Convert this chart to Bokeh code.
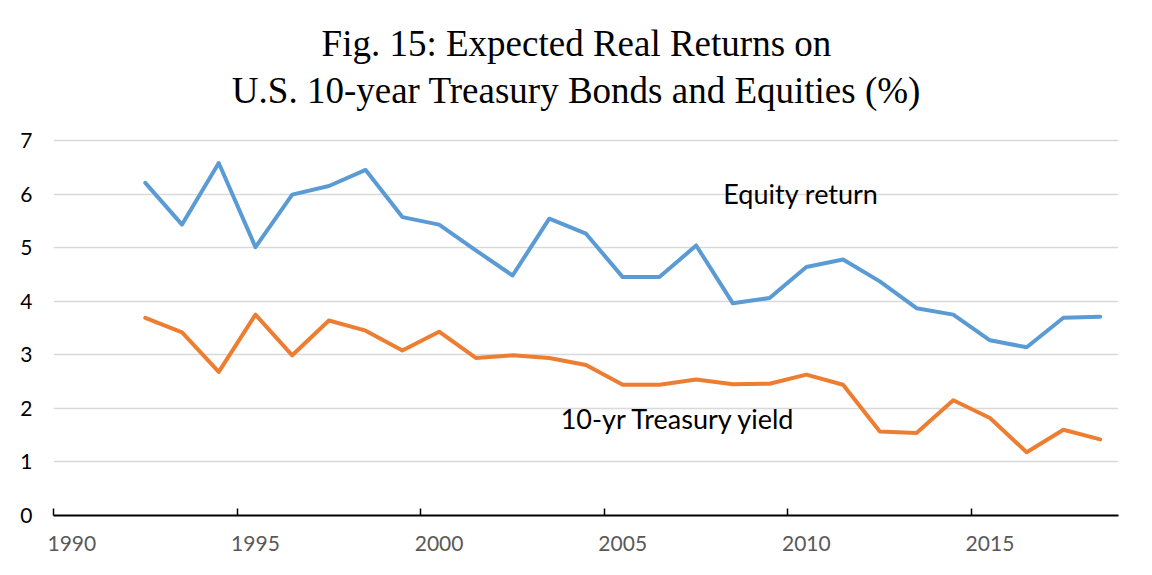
from bokeh.plotting import figure
from bokeh.models import Range1d, FixedTicker, LinearAxis, Label, CustomJSTickFormatter
from bokeh.embed import file_html
from bokeh.resources import INLINE

# ---- data ----
years = list(range(1992, 2019))
equity_return = [6.21, 5.43, 6.58, 5.01, 5.99, 6.15, 6.45, 5.57, 5.43, 4.95,
                 4.48, 5.54, 5.26, 4.45, 4.45, 5.04, 3.96, 4.06, 4.64, 4.78,
                 4.37, 3.87, 3.75, 3.27, 3.14, 3.69, 3.71]
treasury_yield = [3.69, 3.42, 2.68, 3.75, 2.99, 3.64, 3.45, 3.08, 3.43, 2.94,
                  2.99, 2.94, 2.81, 2.44, 2.44, 2.54, 2.45, 2.46, 2.63, 2.44,
                  1.57, 1.54, 2.15, 1.82, 1.18, 1.60, 1.42]
label_years = [1990, 1995, 2000, 2005, 2010, 2015]
y_ticks = [0, 1, 2, 3, 4, 5, 6, 7]
title_lines = ["Fig. 15: Expected Real Returns on",
               "U.S. 10-year Treasury Bonds and Equities (%)"]
series_names = ["Equity return", "10-yr Treasury yield"]

BLUE = "#5B9BD5"
ORANGE = "#ED7D31"
FONT = "Lato"
TITLE_FONT = "Liberation Serif"

# the plotting area extends up to the top of the canvas so the title can sit in it
Y_TOP = 9.613

p = figure(width=1144, height=567, output_backend="svg", toolbar_location=None,
           x_range=Range1d(label_years[0] - 0.5, years[-1] + 0.5),
           y_range=Range1d(y_ticks[0], Y_TOP),
           min_border_left=53, min_border_right=26,
           min_border_top=0, min_border_bottom=52)
p.outline_line_color = None
p.background_fill_color = "white"
p.border_fill_color = "white"

# grid
p.xgrid.grid_line_color = None
p.ygrid.ticker = FixedTicker(ticks=y_ticks[1:])
p.ygrid.grid_line_color = "#D9D9D9"
p.ygrid.grid_line_width = 1.4

# y axis
ya = p.yaxis[0]
ya.ticker = FixedTicker(ticks=y_ticks)
ya.axis_line_color = None
ya.major_tick_line_color = None
ya.minor_tick_line_color = None
ya.major_label_standoff = 15
ya.major_label_text_font = FONT
ya.major_label_text_font_size = "21px"
ya.major_label_text_color = "#000000"

# x axis: tick marks between categories
xa = p.xaxis[0]
xa.ticker = FixedTicker(ticks=[y - 0.5 for y in label_years])
xa.formatter = CustomJSTickFormatter(code="return ''")
xa.axis_line_color = "#000000"
xa.axis_line_width = 2
xa.major_tick_line_color = "#000000"
xa.major_tick_line_width = 1.5
xa.major_tick_in = 7
xa.major_tick_out = 0
xa.minor_tick_line_color = None
xa.major_label_standoff = 0
xa.major_label_text_font_size = "1px"

# x axis: labels centred on categories
xl = LinearAxis(ticker=FixedTicker(ticks=label_years))
xl.axis_line_color = None
xl.major_tick_line_color = None
xl.minor_tick_line_color = None
xl.major_label_standoff = 14
xl.major_label_text_font = FONT
xl.major_label_text_font_size = "21px"
xl.major_label_text_color = "#595959"
p.add_layout(xl, "below")

# lines
p.line(years, equity_return, line_color=BLUE, line_width=4, line_join="round", line_cap="round")
p.line(years, treasury_yield, line_color=ORANGE, line_width=4, line_join="round", line_cap="round")

# series annotations
p.add_layout(Label(x=2007.74, y=6.01, text=series_names[0], text_font=FONT,
                   text_font_size="27px", text_color="black", text_baseline="alphabetic"))
p.add_layout(Label(x=2003.31, y=1.81, text=series_names[1], text_font=FONT,
                   text_font_size="27px", text_color="black", text_baseline="alphabetic"))

# title: two centred lines
for line, ty in zip(title_lines, [8.811, 7.939]):
    p.add_layout(Label(x=2003.74, y=ty, text=line, text_font=TITLE_FONT,
                       text_font_size="37px", text_align="center",
                       text_baseline="alphabetic", text_color="black"))

open("out.html", "w").write(file_html(p, INLINE))
